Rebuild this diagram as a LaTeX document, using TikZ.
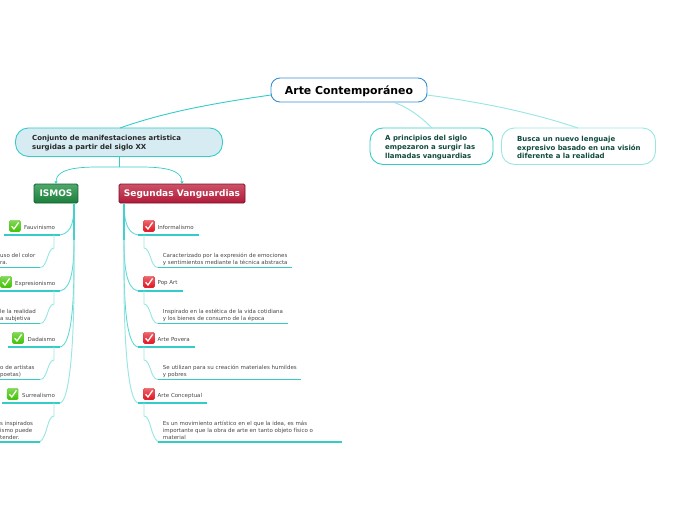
\documentclass[tikz,border=0pt]{standalone}
\usepackage{fontspec}
\usetikzlibrary{arrows.meta}
\setmainfont{DejaVu Sans}
\definecolor{teal1}{HTML}{35CCC8}
\definecolor{teal2}{HTML}{9AE6E3}
\definecolor{rootb}{HTML}{3A8FD0}
\definecolor{dkgreen}{HTML}{0F4A3C}
\definecolor{conjfill}{HTML}{D6ECF2}
\definecolor{ismb}{HTML}{135F30}
\definecolor{ismt}{HTML}{4FA86A}
\definecolor{isml}{HTML}{1C7F3C}
\definecolor{segb}{HTML}{7E1028}
\definecolor{segt}{HTML}{CC5268}
\definecolor{segl}{HTML}{B01A38}
\definecolor{okg}{HTML}{3FC200}
\definecolor{okr}{HTML}{E0141E}
\tikzset{
  big/.style={draw=rootb,line width=0.9pt,fill=white,rounded corners=9pt,minimum width=156pt,minimum height=24pt,inner sep=0pt,text height=8.2pt,text depth=0pt,font=\fontsize{10.9}{13}\selectfont\bfseries},
  mid/.style={rounded corners=13pt,line width=0.9pt,inner sep=0pt,minimum height=36.5pt},
  midtxt/.style={anchor=west,align=left,inner sep=0pt,font=\fontsize{6.95}{8.6}\selectfont\bfseries,text=dkgreen},
  tag/.style={rounded corners=1.5pt,inner sep=0pt,minimum height=19pt,line width=0.8pt,text=white,text height=6.6pt,text depth=0pt,font=\fontsize{9}{10}\selectfont\bfseries},
  leaf/.style={anchor=west,align=left,inner sep=0pt,text=black!72,font=\fontsize{5.5}{7}\selectfont},
  ule/.style={draw=teal1,line width=1.3pt},
  conn/.style={draw=teal2,line width=0.95pt},
  trunk/.style={draw=teal1!55!teal2,line width=0.9pt},
  stem/.style={draw=teal1!85!teal2,line width=1.2pt},
  okbox/.style={rounded corners=1.6pt,minimum size=11.5pt,inner sep=0pt,top color=#1!65!white,bottom color=#1,draw=#1!85!white,line width=0.3pt},
}
\newcommand{\okmark}[4]{%
  \node[okbox=#4] (#1) at (#2,#3) {};
  \draw[white,line width=1.25pt] (#2-3.4,#3+0.2) -- (#2-1,#3+3) -- (#2+3.6,#3-3.6);
}
\begin{document}
\begin{tikzpicture}[x=1pt,y=-1pt]
\useasboundingbox (0,0) rectangle (697,520);
% main nodes
\node[big] (root) at (349,90) {Arte Contemporáneo};
\node[mid,draw=teal1,fill=conjfill,minimum width=207pt,minimum height=28.5pt] (conj) at (119,142.2) {};
\node[midtxt,text=black!85] (conjt) at (32,143) {Conjunto de manifestaciones artistica\\surgidas a partir del siglo XX};
\node[mid,draw=teal1,fill=white,minimum width=123pt] (prin) at (431.5,146.2) {};
\node[midtxt] (print) at (385,147.6) {A principios del siglo\\empezaron a surgir las\\llamadas vanguardias};
\node[mid,draw=teal2,fill=white,minimum width=154pt] (busc) at (578.5,146.2) {};
\node[midtxt] (busct) at (517,147.6) {Busca un nuevo lenguaje\\expresivo basado en una visión\\diferente a la realidad};
\node[tag,draw=ismb,top color=ismt,bottom color=isml,minimum width=44pt] (ismos) at (56,193.5) {ISMOS};
\node[tag,draw=segb,top color=segt,bottom color=segl,minimum width=126pt] (seg) at (182,193.5) {Segundas Vanguardias};
% top connectors
\coordinate (rl) at (271,95);
\coordinate (rb) at (393,102);
\coordinate (rr) at (427,95);
\coordinate (cl) at (120,128);
\coordinate (pt) at (432,128);
\coordinate (bt) at (578,128);
\draw[draw=teal1,line width=0.9pt] (rl) .. controls (215,103) and (165,112) .. (cl);
\draw[conn] (rb) .. controls (410,108) and (422,118) .. (pt);
\draw[conn] (rr) .. controls (480,102) and (530,112) .. (bt);
% conj to tags
\coordinate (cb) at (119,156.5);
\coordinate (cj) at (119,167);
\coordinate (il) at (56,184);
\coordinate (sl) at (182,184);
\draw[draw=teal1,line width=0.9pt] (cb) -- (cj);
\draw[draw=teal1,line width=0.7pt,-{Stealth[length=3.2pt,width=3.4pt]}] (cj) .. controls (90,167) and (56,165) .. (il);
\draw[draw=teal1,line width=0.7pt,-{Stealth[length=3.2pt,width=3.4pt]}] (cj) .. controls (148,167) and (182,165) .. (sl);
% ISMOS trunk
\coordinate (it) at (74,203.5);
\coordinate (a1) at (60,235);
\coordinate (a2) at (60,291);
\coordinate (a3) at (60,347);
\coordinate (a4) at (60,403);
\draw[trunk] (it) .. controls (74,218) and (73,233) .. (a1);
\draw[trunk] (it) -- (74,240) .. controls (74,265) and (72,289) .. (a2);
\draw[trunk] (it) -- (74,260) .. controls (74,300) and (72,345) .. (a3);
\draw[conn] (it) -- (74,280) .. controls (74,340) and (70,401) .. (a4);
\coordinate (its) at (74,240);
\draw[stem] (it) -- (its);
% left leaves
\coordinate (a1l) at (4,235);  \draw[ule] (a1l) -- (a1);
\coordinate (a2l) at (0,291);  \draw[ule] (a2l) -- (a2);
\coordinate (a3l) at (8,347);  \draw[ule] (a3l) -- (a3);
\coordinate (a4l) at (2,403);  \draw[ule] (a4l) -- (a4);
\okmark{ok1}{15}{226}{okg}
\okmark{ok2}{6}{282}{okg}
\okmark{ok3}{18}{338}{okg}
\okmark{ok4}{12.8}{394}{okg}
\node[leaf] (t1) at (24,227.5) {Fauvinismo};
\node[leaf] (t2) at (15,283.5) {Expresionismo};
\node[leaf] (t3) at (27.5,339.5) {Dadaismo};
\node[leaf] (t4) at (22,395.5) {Surrealismo};
\node[leaf] (d1) at (0,259) {uso del color\\ra.};
\node[leaf] (d2) at (0,315) {le la realidad\\a subjetiva};
\node[leaf] (d3) at (0,371) {o de artistas\\poetas)};
\node[leaf] (d4) at (0,430) {s inspirados\\ismo puede\\tender.};
\coordinate (b1) at (54,235); \coordinate (b2) at (54,291); \coordinate (b3) at (54,347); \coordinate (b4) at (54,403);
\coordinate (e1) at (40,267.6); \coordinate (e2) at (40,323.6); \coordinate (e3) at (40,379.6); \coordinate (e4) at (40,442);
\coordinate (e1l) at (0,267.6); \coordinate (e2l) at (0,323.6); \coordinate (e3l) at (0,379.6); \coordinate (e4l) at (0,442);
\foreach \i/\m in {1/248,2/304,3/360,4/416}{
  \draw[conn] (b\i) -- (54,\m) .. controls (47,\m+0.5) and (48,\m+19) .. (e\i);
  \draw[ule] (e\i l) -- (e\i);
}
% Segundas trunk
\coordinate (st) at (124,203.5);
\coordinate (c1) at (138,235);
\coordinate (c2) at (138,291);
\coordinate (c3) at (138,347);
\coordinate (c4) at (138,403);
\draw[trunk] (st) .. controls (124,218) and (126,233) .. (c1);
\draw[trunk] (st) -- (124,240) .. controls (124,265) and (126,289) .. (c2);
\draw[trunk] (st) -- (124,260) .. controls (124,300) and (126,345) .. (c3);
\draw[conn] (st) -- (124,280) .. controls (124,340) and (128,401) .. (c4);
\coordinate (sts) at (124,240);
\draw[stem] (st) -- (sts);
\coordinate (c1r) at (199,235); \draw[ule] (c1) -- (c1r);
\coordinate (c2r) at (183,291); \draw[ule] (c2) -- (c2r);
\coordinate (c3r) at (195,347); \draw[ule] (c3) -- (c3r);
\coordinate (c4r) at (207,403); \draw[ule] (c4) -- (c4r);
\okmark{rk1}{149}{226}{okr}
\okmark{rk2}{149}{282}{okr}
\okmark{rk3}{149}{338}{okr}
\okmark{rk4}{149}{394}{okr}
\node[leaf] (r1) at (157.5,227.5) {Informalismo};
\node[leaf] (r2) at (157.5,283.5) {Pop Art};
\node[leaf] (r3) at (157.5,339.5) {Arte Povera};
\node[leaf] (r4) at (157.5,395.5) {Arte Conceptual};
\node[leaf] (q1) at (162.7,259) {Caracterizado por la expresión de emociones\\y sentimientos mediante la técnica abstracta};
\node[leaf] (q2) at (162.7,315) {Inspirado en la estética de la vida cotidiana\\y los bienes de consumo de la época};
\node[leaf] (q3) at (162.7,371) {Se utilizan para su creación materiales humildes\\y pobres};
\node[leaf] (q4) at (162.7,430) {Es un movimiento artístico en el que la idea, es más\\importante que la obra de arte en tanto objeto físico o\\material};
\coordinate (f1) at (144,235); \coordinate (f2) at (144,291); \coordinate (f3) at (144,347); \coordinate (f4) at (144,403);
\coordinate (g1) at (158,267.6); \coordinate (g2) at (158,323.6); \coordinate (g3) at (158,379.6); \coordinate (g4) at (158,442);
\coordinate (g1r) at (292,267.6); \coordinate (g2r) at (288,323.6); \coordinate (g3r) at (301,379.6); \coordinate (g4r) at (342,442);
\foreach \i/\m in {1/248,2/304,3/360,4/416}{
  \draw[conn] (f\i) -- (144,\m) .. controls (151,\m+0.5) and (150,\m+19) .. (g\i);
  \draw[ule] (g\i) -- (g\i r);
}
\end{tikzpicture}
\end{document}
